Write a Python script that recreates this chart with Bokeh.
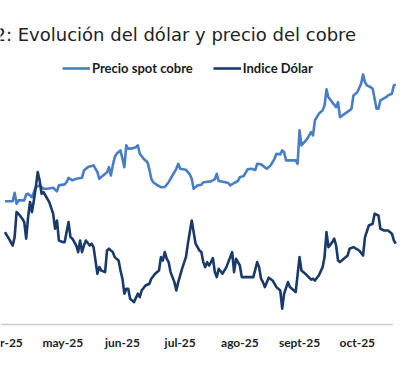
import pandas as pd
from bokeh.plotting import figure
from bokeh.models import Range1d, Legend, LegendItem, Label
from bokeh.core.properties import value
from bokeh.embed import file_html
from bokeh.resources import INLINE

# x values: days since 2025-04-01
base_date = "2025-04-01"

copper_day = [0, 4, 5, 6, 7, 10, 11, 12, 14, 15, 16, 18, 20, 22, 25, 27, 28, 31, 32, 33,
              35, 37, 40, 41, 43, 44, 46, 48, 49, 51, 53, 54, 55, 56, 57, 58, 60, 61, 62, 63,
              64, 66, 68, 69, 70, 72, 74, 75, 76, 77, 79, 81, 83, 85, 87, 89, 90, 91, 94, 96,
              97, 98, 100, 102, 103, 107, 109, 110, 111, 114, 116, 117, 119, 121, 122, 124, 126, 128, 130, 131,
              133, 136, 138, 140, 141, 143, 144, 145, 146, 147, 151, 152, 153, 154, 157, 159, 160, 161, 163, 165,
              166, 167, 168, 170, 172, 173, 174, 176, 179, 180, 181, 183, 185, 186, 187, 188, 190, 191, 193, 194,
              195, 198, 199, 201, 202, 203]
copper_price = [4.500, 4.500, 4.542, 4.487, 4.504, 4.504, 4.534, 4.537, 4.520, 4.545,
                4.570, 4.579, 4.562, 4.562, 4.567, 4.549, 4.579, 4.584, 4.595, 4.617,
                4.604, 4.612, 4.617, 4.654, 4.670, 4.674, 4.679, 4.645, 4.612, 4.629,
                4.645, 4.670, 4.629, 4.679, 4.720, 4.737, 4.754, 4.712, 4.670, 4.779,
                4.762, 4.764, 4.770, 4.779, 4.737, 4.712, 4.695, 4.659, 4.612, 4.595,
                4.581, 4.570, 4.571, 4.595, 4.629, 4.662, 4.687, 4.662, 4.657, 4.634,
                4.612, 4.562, 4.579, 4.582, 4.595, 4.599, 4.610, 4.637, 4.601, 4.596,
                4.591, 4.579, 4.591, 4.601, 4.620, 4.626, 4.659, 4.662, 4.656, 4.687,
                4.684, 4.662, 4.679, 4.712, 4.737, 4.734, 4.754, 4.745, 4.704, 4.704,
                4.704, 4.687, 4.854, 4.779, 4.812, 4.845, 4.829, 4.904, 4.937, 4.954,
                4.979, 5.059, 5.020, 4.995, 4.970, 4.995, 4.920, 4.934, 4.954, 4.962,
                5.029, 5.045, 5.087, 5.134, 5.095, 5.079, 5.070, 5.062, 4.962, 4.962,
                5.004, 5.020, 5.029, 5.037, 5.079, 5.084]

dollar_day = [0, 2, 4, 5, 6, 7, 9, 10, 11, 12, 13, 14, 15, 16, 17, 18, 19, 20, 21, 23,
              25, 26, 27, 28, 30, 31, 33, 34, 35, 37, 38, 39, 40, 41, 42, 44, 45, 46, 48, 49,
              50, 52, 53, 54, 56, 57, 59, 60, 61, 62, 63, 64, 65, 67, 69, 70, 71, 73, 75, 76,
              78, 80, 81, 82, 83, 84, 85, 86, 88, 89, 90, 92, 94, 95, 97, 98, 99, 101, 102, 103,
              104, 105, 106, 107, 108, 109, 110, 111, 113, 115, 116, 118, 119, 120, 122, 123, 125, 128, 129, 131,
              132, 133, 134, 135, 137, 139, 140, 141, 143, 144, 145, 147, 148, 151, 153, 154, 156, 159, 160, 161,
              163, 165, 166, 167, 168, 170, 171, 172, 173, 174, 176, 178, 179, 181, 184, 186, 187, 189, 191, 192,
              194, 195, 197, 199, 201, 202, 203]
dollar_index = [100.92, 100.59, 100.25, 100.67, 101.92, 101.84, 101.59, 101.42, 100.59, 101.67,
                102.42, 101.92, 102.50, 103.17, 103.92, 103.50, 102.84, 102.92, 102.75, 102.42,
                101.84, 101.09, 101.50, 100.50, 100.42, 100.42, 101.42, 100.67, 100.59, 100.25,
                99.92, 100.50, 99.92, 100.25, 100.50, 100.25, 100.34, 100.17, 98.84, 99.17,
                99.00, 98.92, 100.00, 100.09, 99.92, 99.67, 99.50, 99.00, 98.59, 97.84,
                98.09, 98.09, 97.59, 97.42, 97.84, 97.67, 98.00, 98.25, 98.34, 98.59,
                98.84, 99.00, 99.67, 99.50, 99.92, 99.59, 99.42, 98.92, 98.42, 98.00,
                98.42, 99.09, 99.67, 100.34, 101.50, 100.92, 100.34, 100.00, 99.92, 99.42,
                99.17, 99.42, 99.25, 99.42, 99.62, 98.92, 98.67, 99.09, 98.84, 99.17,
                99.42, 99.92, 98.92, 99.59, 99.25, 98.67, 98.67, 98.67, 98.67, 99.42,
                99.17, 98.59, 98.42, 98.17, 98.64, 98.50, 98.34, 98.17, 98.00, 97.09,
                97.84, 98.42, 98.17, 97.92, 99.67, 99.00, 98.84, 98.54, 98.59, 98.50,
                98.75, 99.17, 99.67, 100.92, 100.17, 100.42, 100.59, 100.25, 99.50, 99.42,
                99.59, 99.75, 100.09, 100.17, 100.00, 99.75, 100.67, 101.25, 101.34, 101.84,
                101.75, 101.09, 101.00, 101.00, 100.84, 100.50, 100.34]

month_starts = ["2025-04-01", "2025-05-01", "2025-06-01", "2025-07-01",
                "2025-08-01", "2025-09-01", "2025-10-01"]
month_labels = ["abr-25", "may-25", "jun-25", "jul-25", "ago-25", "sept-25", "oct-25"]

series_names = ["Precio spot cobre", "Indice Dólar"]
title_text = "2: Evolución del dólar y precio del cobre"

base = pd.Timestamp(base_date)
tick_pos = [int((pd.Timestamp(m) - base).days) for m in month_starts]

COPPER = "#4a7ec4"
DOLLAR = "#1a3a6a"
FONT = "Lato"
W, H = 400, 377

# The frame covers the whole canvas; a "layout" range maps y to pixels from the top.
p = figure(width=W, height=H, output_backend="svg", toolbar_location=None,
           x_range=Range1d(-2.338, 205.45), y_range=Range1d(3.6185, 5.5035),
           x_axis_location=None, y_axis_location=None,
           min_border=0, min_border_left=0, min_border_right=0,
           min_border_top=0, min_border_bottom=0)
p.extra_y_ranges = {"dxy": Range1d(93.65, 112.5), "layout": Range1d(H, 0)}

p.xgrid.visible = False
p.ygrid.visible = False
p.outline_line_color = None
p.background_fill_color = "white"
p.border_fill_color = "white"

# category axis baseline and month labels
axis_y = 324
label_y = 342
p.segment(x0=[-2.3], x1=[201.5], y0=[axis_y], y1=[axis_y],
          y_range_name="layout", line_color="#cccccc", line_width=1.5)
p.text(x=tick_pos, y=[label_y] * len(tick_pos), text=month_labels, y_range_name="layout",
       text_align="center", text_baseline="middle", text_font=value(FONT),
       text_font_style="bold", text_font_size="12px", text_color="#222222")

r_cu = p.line(copper_day, copper_price, line_color=COPPER, line_width=2.6, line_join="round")
r_usd = p.line(dollar_day, dollar_index, line_color=DOLLAR, line_width=2.6, line_join="round",
               y_range_name="dxy")

legend = Legend(items=[LegendItem(label=series_names[0], renderers=[r_cu]),
                       LegendItem(label=series_names[1], renderers=[r_usd])],
                orientation="horizontal", location=(62, H - 78),
                glyph_width=28, glyph_height=20, label_standoff=2, spacing=20,
                padding=0, margin=0, border_line_color=None, background_fill_alpha=0,
                label_text_font=FONT, label_text_font_style="bold",
                label_text_font_size="13px", label_text_color="#1a1a1a")
p.add_layout(legend)

title = Label(x=-6, y=H - 34, x_units="screen", y_units="screen", text=title_text,
              text_font="DejaVu Sans", text_font_size="18px", text_color="#222222",
              text_baseline="alphabetic")
p.add_layout(title)

open("out.html", "w").write(file_html(p, INLINE))
